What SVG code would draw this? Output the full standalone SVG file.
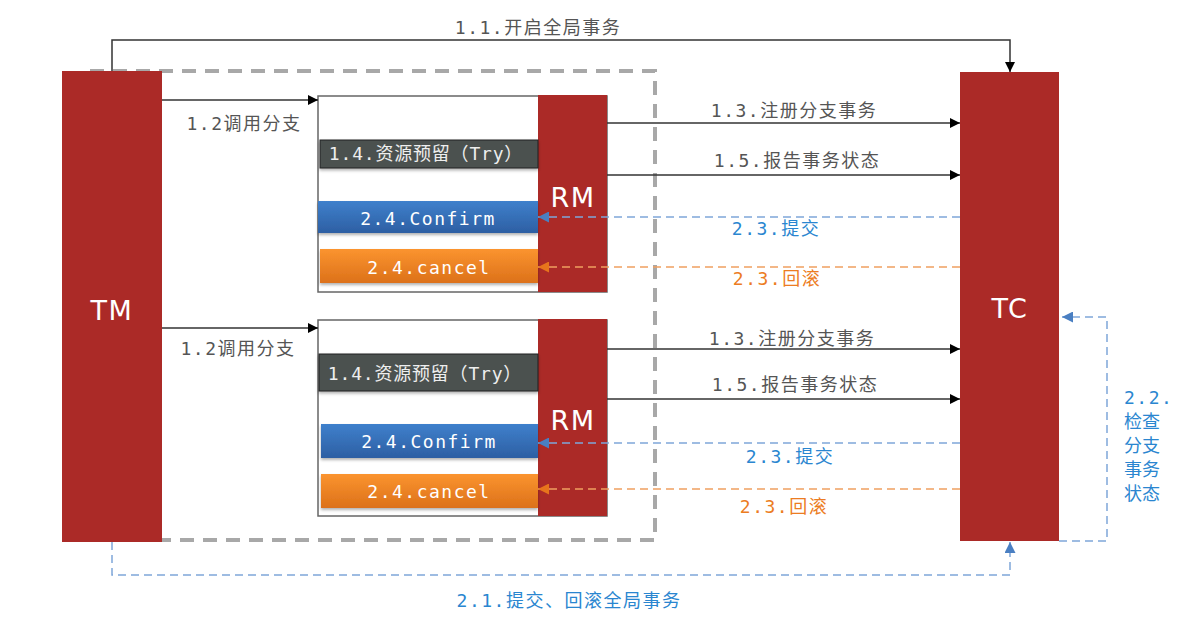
<svg xmlns="http://www.w3.org/2000/svg" width="1191" height="619" viewBox="0 0 1191 619">
<defs>
<style>
.red{fill:#ab2a27}
.big{font-family:"DejaVu Sans","Noto Sans",sans-serif;font-size:27px;fill:#fff;text-anchor:middle;letter-spacing:1.5px}
.lbl{font-family:"DejaVu Sans Mono","Noto Sans CJK SC",monospace;font-size:18px;letter-spacing:1.5px;text-anchor:middle}
.try{letter-spacing:0.8px}
.gray{fill:#555}
.blue{fill:#2a86d0}
.orange{fill:#ec7c22}
.wt{fill:#fff}
.solid{stroke:#333;stroke-width:1.5;fill:none}
.bdash{stroke:#7fa6d9;stroke-width:1.5;fill:none;stroke-dasharray:8 5}
.odash{stroke:#f0a060;stroke-width:1.5;fill:none;stroke-dasharray:8 5}
.branch{fill:#fff;stroke:#666;stroke-width:1.5}
</style>
<marker id="ab" viewBox="0 0 10 10" refX="10" refY="5" markerWidth="10" markerHeight="10" markerUnits="userSpaceOnUse" orient="auto"><path d="M0,0L10,5L0,10z" fill="#000"/></marker>
<marker id="abl" viewBox="0 0 10 10" refX="10" refY="5" markerWidth="11" markerHeight="11" markerUnits="userSpaceOnUse" orient="auto"><path d="M0,0L10,5L0,10z" fill="#4a7fc2"/></marker>
<marker id="aor" viewBox="0 0 10 10" refX="10" refY="5" markerWidth="11" markerHeight="11" markerUnits="userSpaceOnUse" orient="auto"><path d="M0,0L10,5L0,10z" fill="#e7741c"/></marker>
<linearGradient id="gb" x1="0" y1="0" x2="0" y2="1"><stop offset="0" stop-color="#3f80cc"/><stop offset="1" stop-color="#2d5fa3"/></linearGradient>
<linearGradient id="go" x1="0" y1="0" x2="0" y2="1"><stop offset="0" stop-color="#fb942f"/><stop offset="1" stop-color="#dc711a"/></linearGradient>
<filter id="sh" x="-5%" y="-20%" width="110%" height="150%"><feDropShadow dx="0" dy="2" stdDeviation="1.5" flood-color="#000" flood-opacity="0.3"/></filter>
</defs>
<rect width="1191" height="619" fill="#fff"/>

<g id="scope">
<rect x="90" y="71" width="565" height="469" fill="none" stroke="#a8a8a8" stroke-width="4" stroke-dasharray="14 9"/>
</g>

<g id="TM">
<rect class="red" x="62" y="71" width="100" height="471"/>
<text class="big" x="112" y="320">TM</text>
</g>

<g id="TC">
<rect class="red" x="960" y="72" width="99" height="469"/>
<text class="big" x="1010" y="318">TC</text>
</g>

<g id="branch1">
<rect class="branch" x="318" y="96" width="289" height="196"/>
<rect class="red" x="538" y="95" width="69" height="197"/>
<text class="big" x="573" y="207">RM</text>
<rect x="320" y="140" width="218" height="28" fill="#4b5150" stroke="#222" stroke-width="1" filter="url(#sh)"/>
<text class="lbl try" x="426" y="160" fill="#eee">1.4.资源预留（Try）</text>
<rect x="318" y="201" width="220" height="32" fill="url(#gb)" filter="url(#sh)"/>
<text class="lbl wt" x="428" y="225">2.4.Confirm</text>
<rect x="320" y="249" width="218" height="34" fill="url(#go)" filter="url(#sh)"/>
<text class="lbl wt" x="429" y="274">2.4.cancel</text>
</g>

<g id="branch2">
<rect class="branch" x="318" y="320" width="289" height="196"/>
<rect class="red" x="538" y="319" width="69" height="197"/>
<text class="big" x="573" y="430">RM</text>
<rect x="319" y="354" width="219" height="37" fill="#4b5150" stroke="#222" stroke-width="1" filter="url(#sh)"/>
<text class="lbl try" x="425" y="380" fill="#eee">1.4.资源预留（Try）</text>
<rect x="321" y="424" width="217" height="34" fill="url(#gb)" filter="url(#sh)"/>
<text class="lbl wt" x="429" y="448">2.4.Confirm</text>
<rect x="321" y="474" width="217" height="34" fill="url(#go)" filter="url(#sh)"/>
<text class="lbl wt" x="429" y="498">2.4.cancel</text>
</g>

<g id="connectors">
<path class="solid" d="M112,71V40H1010V72" marker-end="url(#ab)"/>
<path class="solid" d="M162,100H318" marker-end="url(#ab)"/>
<path class="solid" d="M162,328H318" marker-end="url(#ab)"/>
<path class="solid" d="M607,123H960" marker-end="url(#ab)"/>
<path class="solid" d="M607,175H960" marker-end="url(#ab)"/>
<path class="solid" d="M607,349H960" marker-end="url(#ab)"/>
<path class="solid" d="M607,399H960" marker-end="url(#ab)"/>
<path class="bdash" d="M960,217H538" marker-end="url(#abl)"/>
<path class="odash" d="M960,267H538" marker-end="url(#aor)"/>
<path class="bdash" d="M960,443H538" marker-end="url(#abl)"/>
<path class="odash" d="M960,489H538" marker-end="url(#aor)"/>
<path class="bdash" d="M1059,541H1107V317H1062" marker-end="url(#abl)"/>
<path class="bdash" d="M112,542V575H1010V542" marker-end="url(#abl)"/>
</g>

<g id="labels">
<text class="lbl gray" x="538" y="34">1.1.开启全局事务</text>
<text class="lbl gray" x="244" y="130">1.2调用分支</text>
<text class="lbl gray" x="238" y="355">1.2调用分支</text>
<text class="lbl gray" x="794" y="117">1.3.注册分支事务</text>
<text class="lbl gray" x="797" y="167">1.5.报告事务状态</text>
<text class="lbl blue" x="776" y="235">2.3.提交</text>
<text class="lbl orange" x="777" y="285">2.3.回滚</text>
<text class="lbl gray" x="792" y="345">1.3.注册分支事务</text>
<text class="lbl gray" x="795" y="391">1.5.报告事务状态</text>
<text class="lbl blue" x="790" y="463">2.3.提交</text>
<text class="lbl orange" x="784" y="513">2.3.回滚</text>
<text class="lbl blue" x="569" y="607">2.1.提交、回滚全局事务</text>
<text class="lbl blue" style="text-anchor:start" x="1124" y="404">2.2.</text>
<text class="lbl blue" style="text-anchor:start;letter-spacing:0" x="1124" y="428">检查</text>
<text class="lbl blue" style="text-anchor:start;letter-spacing:0" x="1124" y="452">分支</text>
<text class="lbl blue" style="text-anchor:start;letter-spacing:0" x="1124" y="476">事务</text>
<text class="lbl blue" style="text-anchor:start;letter-spacing:0" x="1124" y="500">状态</text>
</g>
</svg>
